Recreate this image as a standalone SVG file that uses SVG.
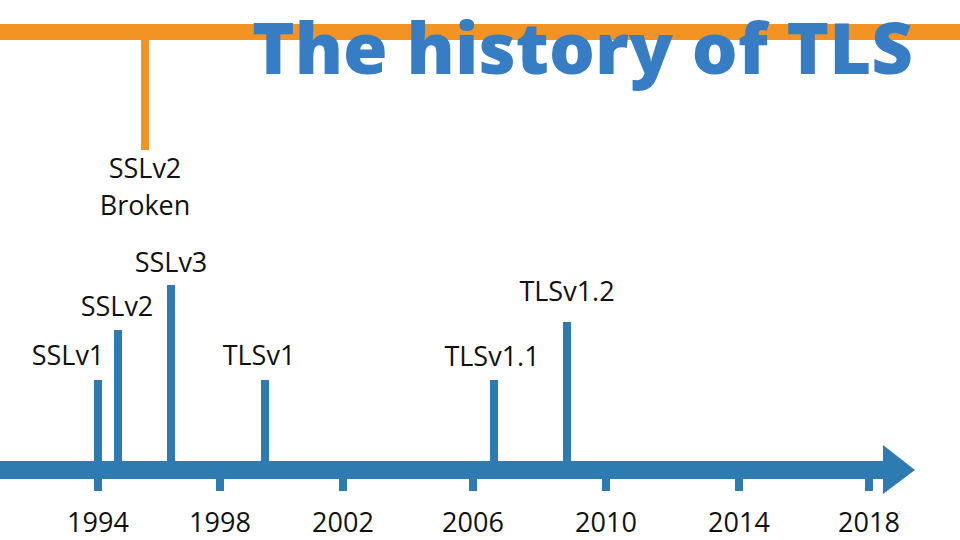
<svg xmlns="http://www.w3.org/2000/svg" width="960" height="540" viewBox="0 0 960 540">
<style>
.bar{fill:#2E7BB1}
.lbl{font-family:"Open Sans","Noto Sans","Liberation Sans",sans-serif;font-size:27px;fill:#111;text-anchor:middle}
.title{font-family:"Open Sans","Noto Sans","Liberation Sans",sans-serif;font-weight:800;font-size:71px;fill:#367DC4}
</style>
<rect width="960" height="540" fill="#fff"/>
<g id="top-line">
<rect x="0" y="24" width="960" height="16" fill="#F39324"/>
<rect x="141" y="40" width="8" height="110" fill="#F39324"/>
</g>
<text id="title" class="title" x="252" y="74" textLength="661" lengthAdjust="spacingAndGlyphs">The history of TLS</text>
<g id="connectors">
<rect class="bar" x="0" y="461" width="885" height="18"/>
<polygon class="bar" points="883,445 915,470 883,494"/>
</g>
<g id="ticks">
<rect class="bar" x="94" y="478" width="8" height="13"/>
<rect class="bar" x="216" y="478" width="8" height="13"/>
<rect class="bar" x="339" y="478" width="8" height="13"/>
<rect class="bar" x="469" y="478" width="8" height="13"/>
<rect class="bar" x="602" y="478" width="8" height="13"/>
<rect class="bar" x="735" y="478" width="8" height="13"/>
<rect class="bar" x="865" y="478" width="8" height="13"/>
</g>
<g id="years">
<text class="lbl" x="98" y="532">1994</text>
<text class="lbl" x="220" y="532">1998</text>
<text class="lbl" x="343" y="532">2002</text>
<text class="lbl" x="473" y="532">2006</text>
<text class="lbl" x="606" y="532">2010</text>
<text class="lbl" x="739" y="532">2014</text>
<text class="lbl" x="869" y="532">2018</text>
</g>
<g id="sslv1"><rect class="bar" x="94" y="380" width="8" height="82"/><text class="lbl" x="68" y="365">SSLv1</text></g>
<g id="sslv2"><rect class="bar" x="114" y="330" width="8" height="132"/><text class="lbl" x="117" y="316">SSLv2</text></g>
<g id="sslv3"><rect class="bar" x="167" y="285" width="8" height="177"/><text class="lbl" x="171" y="272">SSLv3</text></g>
<g id="tlsv1"><rect class="bar" x="261" y="380" width="8" height="82"/><text class="lbl" x="259" y="365">TLSv1</text></g>
<g id="tlsv11"><rect class="bar" x="490" y="380" width="8" height="82"/><text class="lbl" x="492" y="366">TLSv1.1</text></g>
<g id="tlsv12"><rect class="bar" x="563" y="322" width="8" height="140"/><text class="lbl" x="567" y="301">TLSv1.2</text></g>
<g id="sslv2-broken"><text class="lbl" x="145" y="178">SSLv2</text><text class="lbl" x="145" y="215">Broken</text></g>
<text x="899" y="515" font-family="Open Sans, sans-serif" font-size="6" fill="#ccc" text-anchor="middle">4</text>
</svg>
